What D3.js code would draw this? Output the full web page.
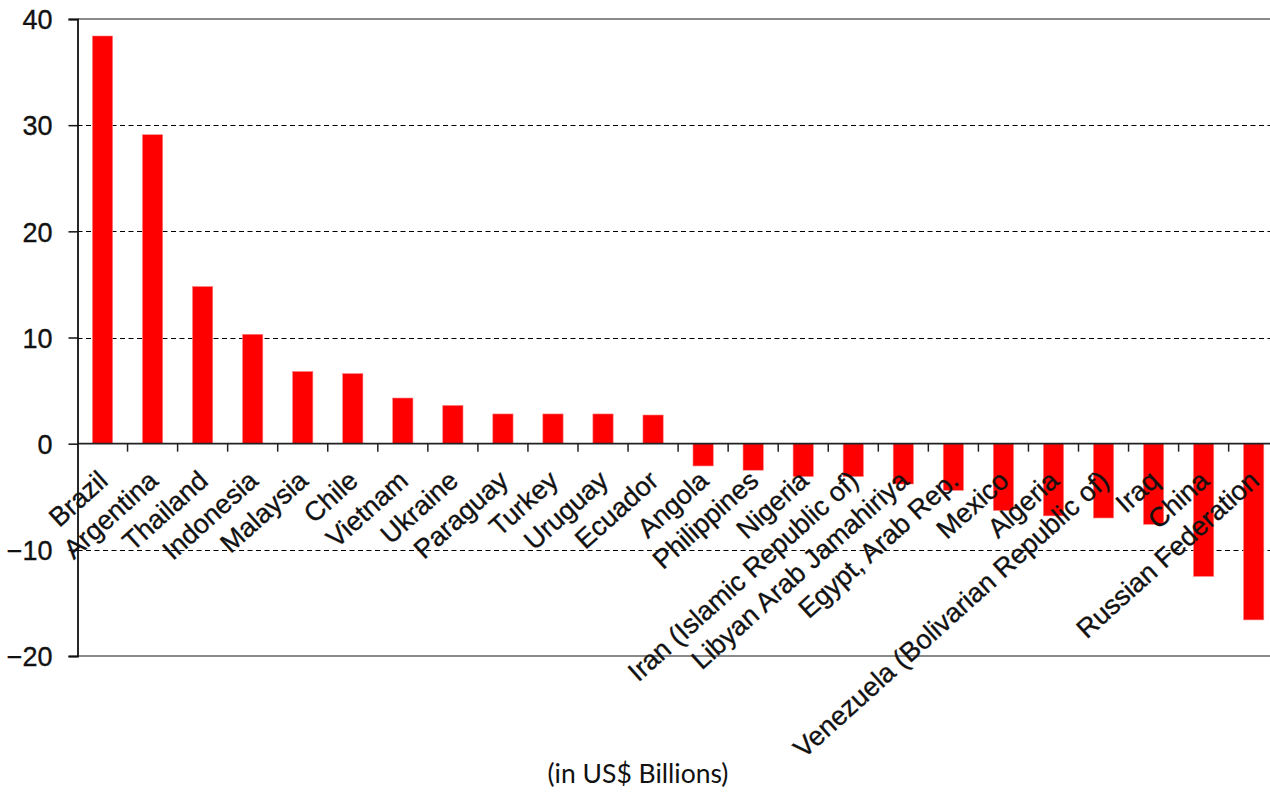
<!DOCTYPE html>
<html>
<head>
<meta charset="utf-8">
<script src="https://cdn.jsdelivr.net/npm/d3@7"></script>
<style>
  html, body { margin: 0; padding: 0; background: #fff; }
  svg { display: block; }
</style>
</head>
<body>
<svg id="chart" width="1270" height="796"></svg>
<script>
const categories = ["Brazil", "Argentina", "Thailand", "Indonesia", "Malaysia", "Chile", "Vietnam", "Ukraine", "Paraguay", "Turkey", "Uruguay", "Ecuador", "Angola", "Philippines", "Nigeria", "Iran (Islamic Republic of)", "Libyan Arab Jamahiriya", "Egypt, Arab Rep.", "Mexico", "Algeria", "Venezuela (Bolivarian Republic of)", "Iraq", "China", "Russian Federation"];
const values = [38.4, 29.1, 14.8, 10.3, 6.8, 6.6, 4.3, 3.6, 2.8, 2.8, 2.8, 2.7, -2.1, -2.5, -3.1, -3.1, -3.8, -4.4, -6.3, -6.8, -7.0, -7.6, -12.5, -16.6];
const yTicks = [-20, -10, 0, 10, 20, 30, 40];
const unitLabel = "(in US$ Billions)";

(function () {
const svg = d3.select("#chart");
const pLeft = 77.5, pTop = 19, pBottom = 656;
const band = 50.05;
const pRight = pLeft + band * categories.length;

const x = d3.scaleBand().domain(categories).range([pLeft, pRight]).paddingInner(0.595).paddingOuter(0.2975);
const y = d3.scaleLinear().domain([-20, 40]).range([pBottom, pTop]);

const font = "'Liberation Sans', Arial, sans-serif";

// gridlines (dashed)
svg.append("g").selectAll("line").data(yTicks.filter(t => t !== 0 && t !== 40 && t !== -20)).join("line")
  .attr("x1", pLeft).attr("x2", 1270)
  .attr("y1", d => Math.round(y(d)) + 0.5).attr("y2", d => Math.round(y(d)) + 0.5)
  .attr("stroke", "#000").attr("stroke-width", 1.2).attr("stroke-dasharray", "5,3.5");

// top and bottom borders (gray)
[40, -20].forEach(v => {
  svg.append("line").attr("x1", pLeft).attr("x2", 1270)
    .attr("y1", y(v)).attr("y2", y(v))
    .attr("stroke", "#8a8a8a").attr("stroke-width", 2.2);
});

// bars
svg.append("g").selectAll("rect").data(values).join("rect")
  .attr("x", (d, i) => x(categories[i]))
  .attr("width", x.bandwidth())
  .attr("y", d => y(Math.max(0, d)))
  .attr("height", d => Math.abs(y(d) - y(0)))
  .attr("fill", "#ff0000")
  .attr("stroke", "#ff8080").attr("stroke-width", 0.6);

// zero axis line
svg.append("line").attr("x1", pLeft).attr("x2", 1270)
  .attr("y1", y(0)).attr("y2", y(0))
  .attr("stroke", "#222").attr("stroke-width", 1.8);

// category tick marks at band boundaries
const boundaries = d3.range(1, categories.length + 1).map(i => pLeft + i * band);
svg.append("g").selectAll("line").data(boundaries).join("line")
  .attr("x1", d => d).attr("x2", d => d)
  .attr("y1", y(0)).attr("y2", y(0) + 8)
  .attr("stroke", "#222").attr("stroke-width", 1.5);

// y axis
const yAxis = d3.axisLeft(y).tickValues(yTicks).tickSize(9).tickPadding(16).tickFormat(d3.format("d"));
const gy = svg.append("g").attr("transform", `translate(${pLeft},0)`).call(yAxis);
gy.select(".domain").attr("stroke", "#111").attr("stroke-width", 1.8);
gy.selectAll(".tick line").attr("stroke", "#111").attr("stroke-width", 1.5);
gy.selectAll(".tick text").attr("font-family", font).attr("font-size", 27).attr("fill", "#111")
  .attr("stroke", "#111").attr("stroke-width", 0.35)
  .attr("dy", "0.36em");

// category labels rotated
svg.append("g").selectAll("text").data(categories).join("text")
  .attr("transform", d => `translate(${x(d) + x.bandwidth() / 2 + 7},${483}) rotate(-42)`)
  .attr("text-anchor", "end")
  .attr("font-family", font).attr("font-size", 27).attr("fill", "#111")
  .attr("stroke", "#111").attr("stroke-width", 0.35)
  .text(d => d);

// unit label
svg.append("text").attr("x", 638).attr("y", 783).attr("text-anchor", "middle")
  .attr("font-family", "Lato, 'Open Sans', sans-serif").attr("font-size", 26.5).attr("fill", "#111")
  .text(unitLabel);
})();
</script>
</body>
</html>
